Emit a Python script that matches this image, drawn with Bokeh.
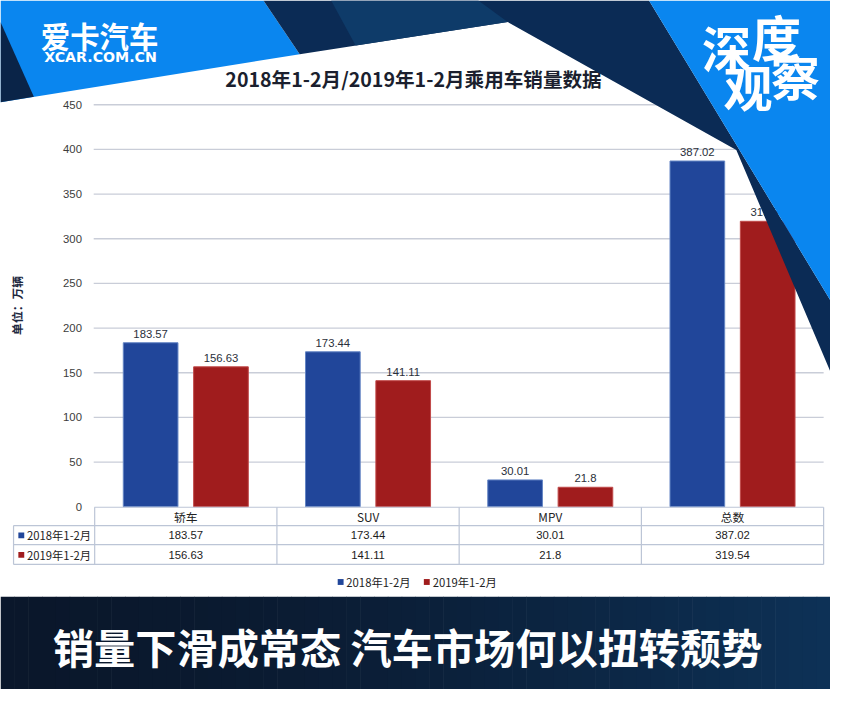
from math import pi
from bokeh.plotting import figure
from bokeh.models import Range1d, ColumnDataSource
from bokeh.core.properties import value
from bokeh.transform import dodge
from bokeh.embed import file_html
from bokeh.resources import INLINE

# ---------------- data ----------------
categories = ["轿车", "SUV", "MPV", "总数"]
series_names = ["2018年1-2月", "2019年1-2月"]
sales_2018 = [183.57, 173.44, 30.01, 387.02]
sales_2019 = [156.63, 141.11, 21.8, 319.54]
y_ticks = [0, 50, 100, 150, 200, 250, 300, 350, 400, 450]
chart_title = "2018年1-2月/2019年1-2月乘用车销量数据"
y_title = "单位：万辆"
headline = "销量下滑成常态 汽车市场何以扭转颓势"
logo_cn = "爱卡汽车"
logo_en = "XCAR.COM.CN"
badge_chars = ["深", "度", "观", "察"]

# ---------------- canvas ----------------
W, H = 830, 689
S = W / 846.0
CJK = value("Noto Sans CJK SC")
NUM = value("Liberation Sans")


def fs(px):
    return f"{px * S:.1f}px"


p = figure(width=W, height=H, x_range=Range1d(0, 846), y_range=Range1d(705, 0),
           output_backend="svg", toolbar_location=None, min_border=0,
           x_axis_location=None, y_axis_location=None)
p.grid.visible = False
p.outline_line_color = None
p.background_fill_color = "white"
p.border_fill_color = "white"
# category scale (column units) and value scale (万辆)
p.extra_x_ranges = {"cat": Range1d(-0.5168, 4.0377)}
p.extra_y_ranges = {"val": Range1d(-204.6, 566.7)}

BLUE = "#21469a"
RED = "#a01c1d"
LINE = "#bcc5d6"

src = ColumnDataSource(dict(
    xc=[i + 0.5 for i in range(len(categories))],
    cat=categories,
    v18=sales_2018,
    v19=sales_2019,
    l18=[f"{v:g}" for v in sales_2018],
    l19=[f"{v:g}" for v in sales_2019],
))

# gridlines + tick labels
p.segment(x0=95, x1=839, y0=y_ticks[1:], y1=y_ticks[1:], y_range_name="val",
          line_color="#c9cdd8", line_width=1.3)
p.text(x=83, y=y_ticks, text=[str(t) for t in y_ticks], y_range_name="val",
       text_align="right", text_baseline="middle", text_font=NUM,
       text_font_size=fs(11.5), text_color="#3c3c3c")

# y-axis title
p.text(x=[16], y=[312], text=[y_title], angle=pi / 2, text_align="center",
       text_baseline="middle", text_font=CJK, text_font_size=fs(12),
       text_font_style="bold", text_color="#1d2840")

# bars
p.vbar(x=dodge("xc", -0.193), top="v18", bottom=0, width=0.30, source=src,
       x_range_name="cat", y_range_name="val", fill_color=BLUE,
       line_color="#6485c4", line_width=1)
p.vbar(x=dodge("xc", 0.193), top="v19", bottom=0, width=0.30, source=src,
       x_range_name="cat", y_range_name="val", fill_color=RED,
       line_color="#c04a4a", line_width=1)

# value labels
for col, off in (("l18", -0.193), ("v18", None)):
    pass
p.text(x=dodge("xc", -0.193), y="v18", text="l18", source=src,
       x_range_name="cat", y_range_name="val", text_align="center",
       text_baseline="alphabetic", y_offset=-9, text_font=NUM,
       text_font_size=fs(11.5), text_color="#2a2f3a")
p.text(x=dodge("xc", 0.193), y="v19", text="l19", source=src,
       x_range_name="cat", y_range_name="val", text_align="center",
       text_baseline="alphabetic", y_offset=-9, text_font=NUM,
       text_font_size=fs(11.5), text_color="#2a2f3a")

# ---------------- data table ----------------
p.segment(x0=[95.7, 13.3, 13.3, 13.3], x1=[839, 839, 839, 839],
          y0=[518.5, 537.3, 556.7, 577], y1=[518.5, 537.3, 556.7, 577],
          line_color=LINE, line_width=1.2)
p.segment(x0=[13.3], x1=[13.3], y0=[537.3], y1=[577], line_color=LINE, line_width=1.2)
p.segment(x0=list(range(len(categories) + 1)), x1=list(range(len(categories) + 1)),
          y0=518.5, y1=577, x_range_name="cat", line_color=LINE, line_width=1.2)
p.text(x="xc", y=527.5, text="cat", source=src, x_range_name="cat",
       text_align="center", text_baseline="middle", text_font=CJK,
       text_font_size=fs(12), text_color="#222222")
p.text(x="xc", y=547.3, text="l18", source=src, x_range_name="cat",
       text_align="center", text_baseline="middle", text_font=NUM,
       text_font_size=fs(11.5), text_color="#1c1c1c")
p.text(x="xc", y=567.3, text="l19", source=src, x_range_name="cat",
       text_align="center", text_baseline="middle", text_font=NUM,
       text_font_size=fs(11.5), text_color="#1c1c1c")
p.scatter(x=[21.2, 21.2], y=[547.3, 567.3], marker="square", size=6 * S,
          fill_color=[BLUE, RED], line_color=None)
p.text(x=[27, 27], y=[547.3, 567.3], text=series_names, text_align="left",
       text_baseline="middle", text_font=CJK, text_font_size=fs(11.5),
       text_color="#222222")

# legend
p.scatter(x=[346.7, 434.5], y=[595, 595], marker="square", size=6 * S,
          fill_color=[BLUE, RED], line_color=None)
p.text(x=[352.5, 440.5], y=[595, 595], text=series_names, text_align="left",
       text_baseline="middle", text_font=CJK, text_font_size=fs(11.5),
       text_color="#222222")

# chart title
p.text(x=[421], y=[80], text=[chart_title], text_align="center",
       text_baseline="middle", text_font=CJK, text_font_size=fs(20),
       text_font_style="bold", text_color="#1b1f2e")

# ---------------- header decoration ----------------
p.patches(
    xs=[[0, 268, 305, 0],
        [0, 34, 0],
        [268, 661, 846, 846, 750, 517, 305],
        [337, 487, 517, 362],
        [661, 846, 846]],
    ys=[[0, 0, 55, 104],
        [22, 98.5, 104],
        [0, 0, 307, 380, 153, 22, 55],
        [0, 0, 22, 46],
        [0, 0, 307]],
    fill_color=["#0a86ef", "#0a2448", "#0b2b55", "#0e3b69", "#0a86ef"],
    line_color=None)

p.text(x=[101], y=[35], text=[logo_cn], text_align="center", text_baseline="middle",
       text_font=CJK, text_font_size=fs(30), text_font_style="bold", text_color="white")
p.text(x=[102], y=[58], text=[logo_en], text_align="center", text_baseline="middle",
       text_font=value("DejaVu Sans"), text_font_size=fs(14.5), text_font_style="bold",
       text_color="white")
p.text(x=[740, 791, 762, 810], y=[47, 36, 87, 76], text=badge_chars,
       text_align="center", text_baseline="middle", text_font=CJK,
       text_font_size=fs(50), text_font_style="bold", text_color="white")

# ---------------- bottom banner ----------------
n = 60
c0 = (0x0a, 0x17, 0x2b)
c1 = (0x0d, 0x31, 0x56)
lefts, rights, cols = [], [], []
for i in range(n):
    t = (i / (n - 1)) ** 1.6
    rgb = tuple(int(round(a + (b - a) * t)) for a, b in zip(c0, c1))
    lefts.append(846 * i / n)
    rights.append(846 * (i + 1) / n + 0.6)
    cols.append("#%02x%02x%02x" % rgb)
p.quad(left=lefts, right=rights, top=610, bottom=705, fill_color=cols, line_color=None)
p.text(x=[415], y=[661], text=[headline], text_align="center", text_baseline="middle",
       text_font=CJK, text_font_size=fs(42), text_font_style="bold", text_color="white")

open("out.html", "w").write(file_html(p, INLINE))
